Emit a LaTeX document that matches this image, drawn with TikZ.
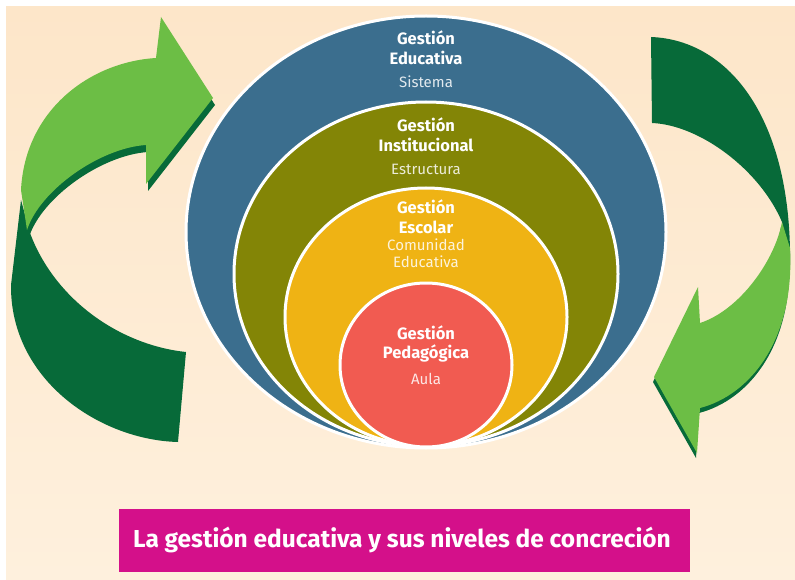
\documentclass[tikz,border=0pt]{standalone}
\usepackage{fontspec}
\setmainfont{Fira Sans}
\definecolor{fondoA}{HTML}{FDE6C9}
\definecolor{fondoB}{HTML}{FEF0DD}
\definecolor{azul}{HTML}{3B6E8E}
\definecolor{olivo}{HTML}{838506}
\definecolor{amarillo}{HTML}{EFB314}
\definecolor{rojo}{HTML}{F15B51}
\definecolor{verdeclaro}{HTML}{6CBE45}
\definecolor{verdeoscuro}{HTML}{076A39}
\definecolor{rosa}{HTML}{D4108A}
\tikzset{
	nivel/.style = {draw = white, line width = 3pt},
	titulo/.style = {text = white, font = \bfseries\fontsize{16.5}{19.5}\selectfont, align = center, inner sep = 0pt},
	sub/.style = {text = white, text opacity = 0.85, font = \fontsize{15}{17}\selectfont, align = center, inner sep = 0pt},
}

\begin{document}
\begin{tikzpicture}[x = 1pt, y = -1pt]
		\useasboundingbox (0,0) rectangle (795,580);
		\fill[top color = fondoA, bottom color = fondoB] (6,7) rectangle (795,580);
		% flecha izquierda
		\fill[verdeoscuro] (21,200) -- (11,285) .. controls (10,380) and (100,440) .. (178,442) -- (186,352) .. controls (120,345) and (55,300) .. (30,233) -- cycle;
		\fill[verdeoscuro, shift = {(2,7)}] (21,190) .. controls (25,110) and (90,62) .. (156,58) -- (161,17) -- (213,98) -- (146,184) -- (146,145) .. controls (100,148) and (40,190) .. (27,230) -- cycle;
		\fill[verdeclaro] (21,190) .. controls (25,110) and (90,62) .. (156,58) -- (161,17) -- (213,98) -- (146,184) -- (146,145) .. controls (100,148) and (40,190) .. (27,230) -- cycle;
		% flecha derecha
		\fill[verdeoscuro] (651,37) .. controls (730,40) and (792,120) .. (790,265) -- (782,222) .. controls (760,170) and (700,125) .. (652,123) -- cycle;
		\fill[verdeoscuro, shift = {(-1,5)}] (790,248) .. controls (795,340) and (750,395) .. (700,408) -- (697,453) -- (654,377) -- (698,287) -- (700,323) .. controls (740,310) and (775,260) .. (782,222) -- cycle;
		\fill[verdeclaro] (790,248) .. controls (795,340) and (750,395) .. (700,408) -- (697,453) -- (654,377) -- (698,287) -- (700,323) .. controls (740,310) and (775,260) .. (782,222) -- cycle;
		% niveles
		\filldraw[nivel, fill = azul] (426,232) ellipse [x radius = 240, y radius = 216];
		\filldraw[nivel, fill = olivo] (426,274) ellipse [x radius = 192, y radius = 172];
		\filldraw[nivel, fill = amarillo] (426,317) ellipse [x radius = 141, y radius = 129];
		\filldraw[nivel, fill = rojo] (426,365) ellipse [x radius = 86, y radius = 82];
		\node[titulo] (educativa) at (426,48) {Gestión\\Educativa};
		\node[sub] (sistema) at (426,82) {Sistema};
		\node[titulo] (institucional) at (426,135) {Gestión\\Institucional};
		\node[sub] (estructura) at (426,169) {Estructura};
		\node[titulo] (escolar) at (426,217) {Gestión\\Escolar};
		\node[sub] (comunidad) at (426,253) {Comunidad\\Educativa};
		\node[titulo] (pedagogica) at (426,344) {Gestión\\Pedagógica};
		\node[sub] (aula) at (426,379) {Aula};
		% titulo
		\fill[rosa] (119,509) rectangle (690,572);
		\node[text = white, font = \bfseries\fontsize{24.5}{28}\selectfont] (concrecion) at (402,540) {La gestión educativa y sus niveles de concreción};
		\end{tikzpicture}
\end{document}
